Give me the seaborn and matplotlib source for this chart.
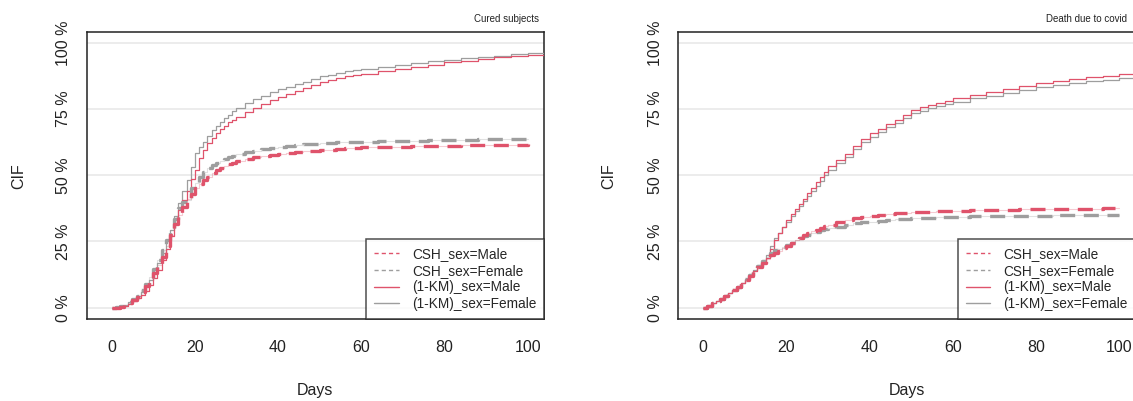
import numpy as np
import pandas as pd
import matplotlib
matplotlib.use("Agg")
import matplotlib.pyplot as plt
from matplotlib.lines import Line2D
import seaborn as sns

# Follow-up days at which the cumulative incidence is tabulated
days = [0, 1, 2, 3, 4, 5, 6, 7, 8, 9, 10, 11, 12, 13, 14, 15, 16, 17, 18, 19,
        20, 21, 22, 23, 24, 25, 26, 27, 28, 29, 30,
        32, 34, 36, 38, 40, 42, 44, 46, 48, 50, 52, 54, 56, 58, 60,
        64, 68, 72, 76, 80, 84, 88, 92, 96, 100]

# Cured subjects (CIF in %)
cured_km_female = [0, 0.1, 0.5, 1.1, 2.0, 3.0, 4.3, 6.0, 8.0, 10.4, 13.1, 16.7, 20.6, 25.0, 29.4, 34.5, 39.4, 44.0, 48.2, 53.0,
                   58.3, 60.8, 62.7, 65.0, 67.0, 68.6, 70.0, 71.5, 72.8, 74.1, 75.3,
                   77.2, 78.8, 80.1, 81.3, 82.4, 83.4, 84.4, 85.3, 86.4, 87.4, 88.0, 88.6, 89.2, 89.7, 90.1,
                   90.9, 91.7, 92.4, 93.1, 93.7, 94.3, 94.8, 95.2, 95.6, 96.0]
cured_km_male = [0, 0.0, 0.3, 0.8, 1.5, 2.4, 3.6, 4.8, 6.2, 8.5, 11.2, 14.4, 18.1, 22.3, 26.9, 32.0, 36.9, 40.5, 44.2, 48.5,
                 52.0, 56.5, 59.5, 62.0, 64.0, 65.8, 67.3, 68.7, 70.0, 71.0, 71.9,
                 73.8, 75.5, 77.0, 78.4, 79.6, 80.8, 81.9, 83.0, 84.2, 85.3, 86.0, 86.7, 87.3, 87.8, 88.2,
                 89.2, 90.1, 90.9, 91.8, 92.6, 93.3, 94.0, 94.5, 95.0, 95.4]
cured_csh_female = [0, 0.1, 0.5, 1.1, 2.2, 3.2, 4.5, 6.5, 9.0, 11.6, 14.6, 18.0, 21.6, 25.5, 29.4, 33.5, 37.6, 39.8, 40.7, 45.0,
                    47.2, 49.5, 51.4, 52.8, 53.8, 54.5, 55.3, 56.0, 56.8, 57.4, 58.0,
                    58.7, 59.3, 59.8, 60.3, 60.8, 61.2, 61.5, 61.7, 61.9, 62.1, 62.3, 62.4, 62.5, 62.6, 62.7,
                    62.9, 63.0, 63.1, 63.2, 63.3, 63.4, 63.5, 63.6, 63.6, 63.7]
cured_csh_male = [0, 0.0, 0.3, 0.9, 1.8, 2.8, 3.9, 5.9, 8.3, 10.6, 13.1, 16.0, 19.3, 23.3, 27.5, 31.5, 35.0, 38.0, 41.0, 43.0,
                  45.1, 46.8, 48.2, 49.5, 50.8, 51.8, 52.7, 53.4, 54.1, 54.7, 55.2,
                  56.0, 56.7, 57.2, 57.6, 58.0, 58.4, 58.8, 59.1, 59.3, 59.5, 59.7, 59.9, 60.1, 60.4, 60.6,
                  60.7, 60.8, 60.9, 61.0, 61.2, 61.3, 61.4, 61.5, 61.6, 61.7]

# Death due to covid (CIF in %)
death_km_male = [0, 0.8, 1.6, 2.4, 3.3, 4.3, 5.4, 6.6, 7.8, 9.2, 10.6, 12.1, 13.7, 15.3, 17.0, 18.7, 22.0, 25.6, 28.0, 30.6,
                 33.2, 35.3, 37.3, 39.3, 41.2, 43.2, 45.3, 47.3, 49.3, 51.3, 53.3,
                 55.8, 58.2, 61.0, 63.6, 65.8, 67.6, 69.3, 71.0, 72.8, 74.6, 75.6, 76.5, 77.4, 78.2, 79.0,
                 80.3, 81.5, 82.6, 83.8, 84.9, 85.7, 86.4, 87.0, 87.6, 88.2]
death_km_female = [0, 0.8, 1.6, 2.4, 3.3, 4.3, 5.4, 6.6, 7.9, 9.4, 10.9, 12.6, 14.3, 16.1, 18.0, 20.0, 23.3, 26.3, 28.3, 30.4,
                   32.5, 34.5, 36.4, 38.3, 40.1, 42.0, 44.0, 46.0, 48.0, 50.0, 52.0,
                   54.5, 57.0, 59.8, 62.4, 64.6, 66.4, 68.1, 69.8, 71.6, 73.4, 74.4, 75.3, 76.2, 77.0, 77.8,
                   79.0, 80.1, 81.2, 82.2, 83.2, 84.0, 84.8, 85.5, 86.1, 86.6]
death_csh_male = [0, 0.8, 1.6, 2.4, 3.3, 4.3, 5.4, 6.6, 7.8, 9.2, 10.6, 12.1, 13.7, 15.2, 16.8, 18.3, 19.8, 20.6, 21.5, 22.5,
                  23.4, 24.5, 25.5, 26.4, 27.3, 28.1, 28.8, 29.5, 30.1, 30.7, 31.3,
                  32.2, 33.0, 33.7, 34.3, 34.7, 35.1, 35.4, 35.7, 35.9, 36.1, 36.2, 36.3, 36.4, 36.5, 36.6,
                  36.7, 36.8, 36.9, 37.1, 37.2, 37.3, 37.4, 37.4, 37.5, 37.6]
death_csh_female = [0, 0.8, 1.6, 2.4, 3.3, 4.3, 5.4, 6.6, 7.9, 9.4, 10.9, 12.5, 14.1, 15.8, 17.5, 19.3, 20.8, 21.6, 22.3, 23.0,
                    23.7, 24.6, 25.5, 26.3, 26.9, 27.5, 28.1, 28.7, 29.2, 29.6, 30.0,
                    30.6, 31.2, 31.8, 32.2, 32.5, 32.8, 33.1, 33.4, 33.6, 33.8, 33.9, 34.0, 34.2, 34.3, 34.4,
                    34.5, 34.6, 34.6, 34.7, 34.7, 34.8, 34.8, 34.9, 35.0, 35.0]

panel_titles = ["Cured subjects", "Death due to covid"]
legend_labels = ["CSH_sex=Male", "CSH_sex=Female", "(1-KM)_sex=Male", "(1-KM)_sex=Female"]
y_ticks = [0, 25, 50, 75, 100]
y_tick_labels = ["0 %", "25 %", "50 %", "75 %", "100 %"]
x_ticks = [0, 20, 40, 60, 80, 100]

RED = "#DF536B"
GREY = "#9E9E9E"

sns.set_theme(style="white")
plt.rcParams["font.family"] = ["Liberation Sans", "DejaVu Sans"]

W, H = 1133, 401
fig = plt.figure(figsize=(W / 100, H / 100), dpi=100)

ax_w = 457.6 / W
ax_b = (H - 319.3) / H
ax_h = 287.6 / H
axes = [fig.add_axes([86.7 / W, ax_b, ax_w, ax_h]),
        fig.add_axes([678.3 / W, ax_b, ax_w, ax_h])]

panels = [
    (cured_csh_male, cured_csh_female, cured_km_male, cured_km_female),
    (death_csh_male, death_csh_female, death_km_male, death_km_female),
]

dash_pat = (0, (4.5, 2.6))


def step_frame(values, extend=False):
    d = list(days)
    v = list(values)
    if extend:
        d.append(110)
        v.append(v[-1])
    return pd.DataFrame({"Days": d, "CIF": v})


for ax, (csh_m, csh_f, km_m, km_f), cif_x, days_x in zip(axes, panels, [18.6, 609], [315, 907]):
    # Kaplan-Meier complements: thin solid steps
    sns.lineplot(data=step_frame(km_f, True), x="Days", y="CIF", ax=ax, color=GREY,
                 lw=0.9, drawstyle="steps-post", errorbar=None, zorder=3)
    sns.lineplot(data=step_frame(km_m, True), x="Days", y="CIF", ax=ax, color=RED,
                 lw=0.9, drawstyle="steps-post", errorbar=None, zorder=3)
    # Cause-specific cumulative incidence: thick dashed steps over a faint trace
    for vals, col in [(csh_f, GREY), (csh_m, RED)]:
        df = step_frame(vals)
        sns.lineplot(data=df, x="Days", y="CIF", ax=ax, color=col, lw=0.8, alpha=0.3,
                     drawstyle="steps-post", errorbar=None, zorder=2)
        sns.lineplot(data=df, x="Days", y="CIF", ax=ax, color=col, lw=2.4,
                     linestyle=dash_pat, drawstyle="steps-post", errorbar=None, zorder=4)

    ax.set_xlim(-6.0, 104.0)
    ax.set_ylim(-4.4, 104.2)
    ax.set_yticks(y_ticks)
    ax.set_yticklabels(y_tick_labels, rotation=90, va="center")
    ax.set_xticks(x_ticks)
    ax.set_xticklabels([str(t) for t in x_ticks])
    ax.tick_params(axis="both", which="both", direction="out", length=7.2, width=0.8,
                   color="#333333", labelsize=11.5, labelcolor="#222222")
    ax.tick_params(axis="x", pad=8)
    ax.tick_params(axis="y", pad=4)
    ax.set_axisbelow(True)
    ax.grid(axis="y", color="#EBEBEB", lw=1.3)
    ax.grid(axis="x", visible=False)
    for sp in ax.spines.values():
        sp.set_color("#222222")
        sp.set_linewidth(1.1)
        sp.set_visible(True)
    ax.set_xlabel("")
    ax.set_ylabel("")

    handles = [
        Line2D([], [], color=RED, lw=1.0, linestyle=(0, (3, 2.2))),
        Line2D([], [], color=GREY, lw=1.0, linestyle=(0, (3, 2.2))),
        Line2D([], [], color=RED, lw=1.0),
        Line2D([], [], color=GREY, lw=1.0),
    ]
    leg = ax.legend(handles, legend_labels, loc="lower right", bbox_to_anchor=(1.0, 0.0),
                    borderaxespad=0.0, fontsize=9.8, frameon=True, fancybox=False,
                    handlelength=1.8, handletextpad=0.95, labelspacing=0.2,
                    borderpad=0.6)
    leg.get_frame().set_edgecolor("#222222")
    leg.get_frame().set_linewidth(1.1)
    leg.get_frame().set_facecolor("white")
    leg.set_zorder(6)

    # Axis titles placed in pixel space
    fig.text(days_x / W, 1 - 390 / H, "Days", ha="center", va="center", fontsize=11.5, color="#222222")
    fig.text(cif_x / W, 1 - 176 / H, "CIF", ha="center", va="center", rotation=90,
             fontsize=11.5, color="#222222")

fig.text(539 / W, 1 - 19 / H, panel_titles[0], ha="right", va="center", fontsize=7, color="#222222")
fig.text(1127 / W, 1 - 19 / H, panel_titles[1], ha="right", va="center", fontsize=7, color="#222222")

fig.savefig("out.png", dpi=100)
